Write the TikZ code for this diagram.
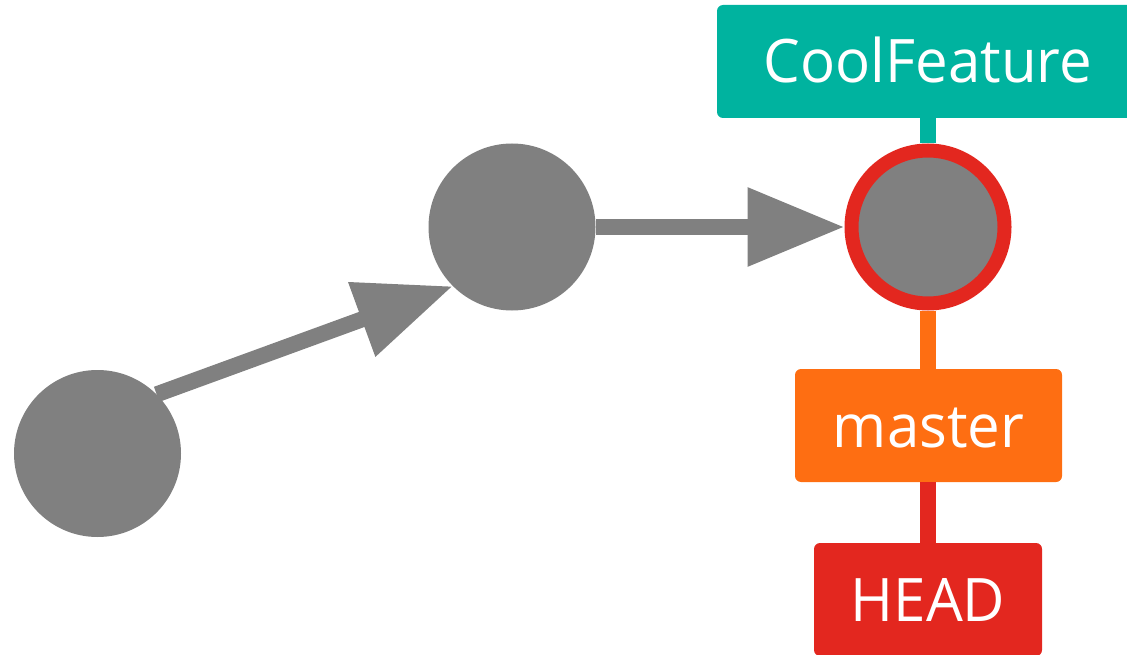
\documentclass[tikz,border=0pt]{standalone}
\usepackage{fontspec}
\setmainfont[FakeStretch=0.97]{Open Sans}
\usetikzlibrary{arrows.meta}

\definecolor{commitgray}{HTML}{808080}
\definecolor{featureteal}{HTML}{00B39F}
\definecolor{masterorange}{HTML}{FE6E12}
\definecolor{headred}{HTML}{E3271F}

\tikzset{
  commit/.style={circle, fill=commitgray, minimum size=167pt, inner sep=0pt},
  current/.style={circle, fill=commitgray, draw=headred, line width=14pt,
    minimum size=153pt, inner sep=0pt},
  parentlink/.style={draw=commitgray, line width=16pt,
    -{Triangle[length=97pt, width=75pt]}},
  label/.style={rounded corners=6pt, minimum height=113pt, inner sep=0pt,
    text=white, font=\fontsize{60}{60}\selectfont,
    text height=43pt, text depth=0pt},
  refline/.style={line width=16pt},
}

\begin{document}
\begin{tikzpicture}[x=1pt, y=-1pt]
  \clip (0,0) rectangle (1127,655);

  % commits
  \node[commit]  (c1) at (97.5,453.5) {};
  \node[commit]  (c2) at (512,227) {};
  \node[current] (c3) at (928,227) {};

  % branch and HEAD labels
  \node[label, fill=featureteal, minimum width=422pt] (cool) at (928,61.5) {CoolFeature};
  \node[label, fill=masterorange, minimum width=267pt] (master) at (928.5,425.5) {master};
  \node[label, fill=headred, minimum width=228pt] (head) at (928,599.5) {HEAD};

  % history arrows
  \draw[parentlink] (c1.45) -- (c2.225);
  \draw[parentlink] (c2.east) -- (c3.west);

  % reference links
  \draw[refline, featureteal] (cool.south) -- (c3.north);
  \draw[refline, masterorange] (c3.south) -- (master.north -| c3.south);
  \draw[refline, headred] (master.south -| head.north) -- (head.north);
\end{tikzpicture}
\end{document}
